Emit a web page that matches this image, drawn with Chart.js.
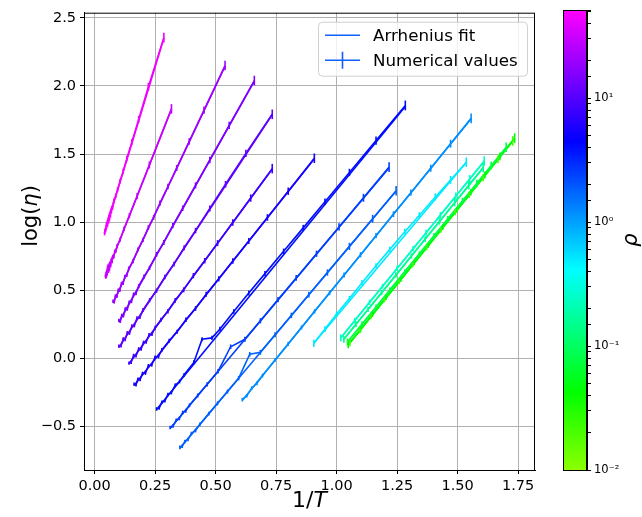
<!DOCTYPE html>
<html>
<head>
<meta charset="utf-8">
<title>Arrhenius plot</title>
<script src="https://cdn.jsdelivr.net/npm/chart.js@4.4.0/dist/chart.umd.min.js"></script>
<style>
    body { margin: 0; background: #fff; }
    #wrap { position: relative; width: 642px; height: 517px; }
    #wrap canvas { position: absolute; top: 0; }
</style>
</head>
<body>
<div id="wrap">
    <canvas id="mainChart" width="545" height="517" style="left:0"></canvas>
    <canvas id="colorbarChart" width="97" height="517" style="left:545px"></canvas>
</div>
<script>
// rho value of each run (colour comes from the colorbar)
const rhoValues = [45, 30, 20, 15, 11, 8, 5.6, 4, 2.5, 1.8, 1.17, 0.5, 0.25, 0.15, 0.08, 0.045, 0.022];

// numerical values: 1/T, log(eta), error
const invT_45 = [0.286, 0.222, 0.182, 0.154, 0.133, 0.118, 0.105, 0.095, 0.087, 0.080, 0.077, 0.074, 0.071, 0.069, 0.067, 0.065, 0.063, 0.061, 0.059, 0.057, 0.055, 0.053, 0.051, 0.049, 0.047, 0.045, 0.043, 0.041];
const logEta_45 = [2.355, 1.995, 1.755, 1.589, 1.467, 1.374, 1.301, 1.241, 1.193, 1.160, 1.134, 1.105, 1.108, 1.080, 1.085, 1.052, 1.060, 1.030, 1.040, 1.008, 1.015, 0.984, 0.992, 0.960, 0.966, 0.938, 0.944, 0.915];
const err_45 = [0.035, 0.028, 0.025, 0.022, 0.020, 0.019, 0.018, 0.017, 0.016, 0.015, 0.015, 0.014, 0.014, 0.014, 0.013, 0.013, 0.013, 0.013, 0.012, 0.012, 0.012, 0.012, 0.012, 0.012, 0.012, 0.012, 0.012, 0.012];

const invT_30 = [0.3175, 0.2262, 0.1757, 0.1437, 0.1215, 0.1053, 0.0929, 0.088, 0.0831, 0.079, 0.0751, 0.072, 0.0686, 0.066, 0.0631, 0.061, 0.0584, 0.056, 0.0544, 0.052, 0.0509, 0.049, 0.0478, 0.046, 0.045];
const logEta_30 = [1.832, 1.420, 1.192, 1.048, 0.951, 0.872, 0.825, 0.790, 0.784, 0.745, 0.748, 0.712, 0.720, 0.684, 0.696, 0.660, 0.676, 0.638, 0.657, 0.620, 0.640, 0.606, 0.625, 0.596, 0.610];
const err_30 = [0.035, 0.026, 0.022, 0.019, 0.017, 0.016, 0.015, 0.014, 0.014, 0.013, 0.013, 0.013, 0.013, 0.012, 0.012, 0.012, 0.012, 0.012, 0.012, 0.012, 0.012, 0.012, 0.012, 0.012, 0.012];

const invT_20 = [0.539, 0.452, 0.391, 0.339, 0.303, 0.270, 0.244, 0.222, 0.200, 0.179, 0.159, 0.141, 0.133, 0.125, 0.118, 0.111, 0.104, 0.098, 0.092, 0.086, 0.081, 0.076];
const logEta_20 = [2.150, 1.823, 1.593, 1.397, 1.262, 1.140, 1.036, 0.960, 0.870, 0.799, 0.714, 0.660, 0.612, 0.600, 0.552, 0.550, 0.500, 0.502, 0.455, 0.458, 0.414, 0.420];
const err_20 = [0.035, 0.027, 0.024, 0.022, 0.020, 0.019, 0.018, 0.017, 0.016, 0.015, 0.015, 0.014, 0.014, 0.013, 0.013, 0.013, 0.013, 0.012, 0.012, 0.012, 0.012, 0.012];

const invT_15 = [0.660, 0.556, 0.476, 0.417, 0.364, 0.323, 0.286, 0.256, 0.227, 0.204, 0.182, 0.171, 0.161, 0.152, 0.143, 0.135, 0.127, 0.119, 0.112, 0.106, 0.100];
const logEta_15 = [2.040, 1.711, 1.457, 1.270, 1.102, 0.975, 0.851, 0.764, 0.664, 0.600, 0.530, 0.478, 0.470, 0.418, 0.412, 0.362, 0.364, 0.312, 0.316, 0.272, 0.278];
const err_15 = [0.035, 0.027, 0.024, 0.022, 0.020, 0.019, 0.018, 0.017, 0.016, 0.015, 0.015, 0.014, 0.014, 0.013, 0.013, 0.013, 0.012, 0.012, 0.012, 0.012, 0.012];

const invT_11 = [0.734, 0.625, 0.541, 0.476, 0.417, 0.370, 0.328, 0.290, 0.256, 0.227, 0.200, 0.187, 0.175, 0.164, 0.154, 0.144, 0.135, 0.126, 0.118, 0.109, 0.100];
const logEta_11 = [1.792, 1.505, 1.278, 1.100, 0.938, 0.812, 0.692, 0.597, 0.497, 0.427, 0.355, 0.303, 0.295, 0.240, 0.238, 0.185, 0.188, 0.137, 0.142, 0.092, 0.090];
const err_11 = [0.035, 0.027, 0.024, 0.022, 0.020, 0.019, 0.018, 0.017, 0.016, 0.015, 0.015, 0.014, 0.014, 0.013, 0.013, 0.013, 0.012, 0.012, 0.012, 0.012, 0.012];

const invT_8 = [0.734, 0.645, 0.571, 0.508, 0.455, 0.408, 0.368, 0.333, 0.303, 0.274, 0.250, 0.237, 0.225, 0.213, 0.202, 0.192, 0.182, 0.171, 0.161, 0.151, 0.142];
const logEta_8 = [1.393, 1.177, 0.998, 0.846, 0.717, 0.607, 0.503, 0.426, 0.346, 0.283, 0.225, 0.178, 0.172, 0.120, 0.117, 0.068, 0.070, 0.018, 0.022, -0.030, -0.036];
const err_8 = [0.035, 0.027, 0.024, 0.022, 0.020, 0.019, 0.018, 0.017, 0.016, 0.015, 0.015, 0.014, 0.014, 0.013, 0.013, 0.013, 0.012, 0.012, 0.012, 0.012, 0.012];

const invT_5p6 = [0.908, 0.800, 0.714, 0.637, 0.571, 0.513, 0.461, 0.417, 0.377, 0.341, 0.308, 0.278, 0.264, 0.250, 0.236, 0.222, 0.210, 0.198, 0.188, 0.179, 0.171, 0.163];
const logEta_5p6 = [1.469, 1.227, 1.034, 0.862, 0.714, 0.584, 0.471, 0.366, 0.283, 0.195, 0.129, 0.062, 0.014, 0.008, -0.048, -0.055, -0.108, -0.110, -0.156, -0.152, -0.194, -0.190];
const err_5p6 = [0.035, 0.027, 0.024, 0.022, 0.020, 0.019, 0.018, 0.017, 0.016, 0.015, 0.015, 0.014, 0.014, 0.013, 0.013, 0.013, 0.013, 0.012, 0.012, 0.012, 0.012, 0.012];

const invT_4 = [1.284, 1.163, 1.053, 0.952, 0.862, 0.781, 0.704, 0.637, 0.575, 0.518, 0.485, 0.444, 0.410, 0.370, 0.351, 0.333, 0.317, 0.303, 0.290, 0.278, 0.267, 0.256];
const logEta_4 = [1.857, 1.599, 1.365, 1.150, 0.958, 0.786, 0.622, 0.479, 0.344, 0.215, 0.150, 0.140, -0.030, -0.121, -0.170, -0.198, -0.252, -0.265, -0.312, -0.322, -0.364, -0.372];
const err_4 = [0.036, 0.030, 0.027, 0.024, 0.022, 0.020, 0.019, 0.018, 0.017, 0.016, 0.016, 0.015, 0.015, 0.014, 0.014, 0.014, 0.013, 0.013, 0.013, 0.013, 0.013, 0.013];

const invT_2p5 = [1.217, 1.111, 1.010, 0.917, 0.833, 0.758, 0.685, 0.621, 0.562, 0.510, 0.465, 0.426, 0.392, 0.377, 0.364, 0.350, 0.337, 0.324, 0.312];
const logEta_2p5 = [1.404, 1.179, 0.965, 0.768, 0.590, 0.431, 0.276, 0.140, 0.085, -0.095, -0.191, -0.273, -0.345, -0.385, -0.398, -0.442, -0.455, -0.497, -0.508];
const err_2p5 = [0.035, 0.029, 0.026, 0.023, 0.021, 0.020, 0.019, 0.018, 0.017, 0.016, 0.015, 0.015, 0.014, 0.014, 0.014, 0.013, 0.013, 0.013, 0.013];

const invT_1p8 = [1.246, 1.149, 1.053, 0.962, 0.885, 0.813, 0.746, 0.685, 0.641, 0.595, 0.549, 0.508, 0.472, 0.435, 0.417, 0.400, 0.386, 0.373, 0.362, 0.352];
const logEta_1p8 = [1.230, 1.025, 0.822, 0.630, 0.467, 0.315, 0.173, 0.044, 0.030, -0.146, -0.244, -0.330, -0.406, -0.485, -0.530, -0.552, -0.596, -0.610, -0.646, -0.654];
const err_1p8 = [0.035, 0.029, 0.026, 0.023, 0.021, 0.020, 0.019, 0.018, 0.017, 0.016, 0.015, 0.015, 0.014, 0.014, 0.014, 0.013, 0.013, 0.013, 0.013, 0.013];

const invT_1p17 = [1.556, 1.471, 1.389, 1.307, 1.235, 1.163, 1.099, 1.031, 0.971, 0.909, 0.855, 0.800, 0.746, 0.694, 0.671, 0.649, 0.629, 0.610];
const logEta_1p17 = [1.762, 1.576, 1.396, 1.216, 1.059, 0.901, 0.761, 0.612, 0.481, 0.345, 0.227, 0.106, -0.012, -0.126, -0.183, -0.219, -0.275, -0.304];
const err_1p17 = [0.035, 0.029, 0.026, 0.023, 0.021, 0.020, 0.019, 0.018, 0.017, 0.016, 0.015, 0.015, 0.014, 0.014, 0.014, 0.013, 0.013, 0.013];

const invT_0p5 = [1.536, 1.471, 1.408, 1.342, 1.282, 1.220, 1.163, 1.105, 1.053, 1.000, 0.952, 0.906];
const logEta_0p5 = [1.440, 1.310, 1.185, 1.050, 0.930, 0.800, 0.680, 0.555, 0.440, 0.325, 0.215, 0.110];
const err_0p5 = [0.035, 0.029, 0.026, 0.023, 0.021, 0.020, 0.019, 0.018, 0.018, 0.019, 0.021, 0.026];

const invT_0p25 = [1.610, 1.550, 1.493, 1.429, 1.370, 1.316, 1.250, 1.190, 1.136, 1.075, 1.017];
const logEta_0p25 = [1.449, 1.317, 1.192, 1.052, 0.923, 0.805, 0.660, 0.529, 0.411, 0.277, 0.150];
const err_0p25 = [0.035, 0.029, 0.026, 0.023, 0.021, 0.020, 0.019, 0.018, 0.019, 0.021, 0.026];

const invT_0p15 = [1.606, 1.546, 1.488, 1.425, 1.366, 1.309, 1.245, 1.186, 1.130, 1.080, 1.030];
const logEta_0p15 = [1.401, 1.270, 1.143, 1.005, 0.876, 0.751, 0.611, 0.482, 0.359, 0.250, 0.140];
const err_0p15 = [0.035, 0.029, 0.026, 0.023, 0.021, 0.020, 0.019, 0.018, 0.019, 0.021, 0.026];

const invT_0p08 = [1.701, 1.639, 1.580, 1.520, 1.460, 1.403, 1.342, 1.282, 1.220, 1.163, 1.105, 1.045];
const logEta_0p08 = [1.550, 1.415, 1.286, 1.156, 1.025, 0.900, 0.767, 0.637, 0.502, 0.377, 0.251, 0.120];
const err_0p08 = [0.035, 0.029, 0.026, 0.023, 0.021, 0.020, 0.019, 0.018, 0.018, 0.019, 0.021, 0.026];

const invT_0p045 = [1.736, 1.675, 1.613, 1.555, 1.497, 1.439, 1.379, 1.321, 1.266, 1.205, 1.149, 1.099, 1.048];
const logEta_0p045 = [1.617, 1.483, 1.346, 1.218, 1.090, 0.962, 0.830, 0.702, 0.581, 0.446, 0.323, 0.212, 0.100];
const err_0p045 = [0.035, 0.029, 0.026, 0.023, 0.021, 0.020, 0.019, 0.018, 0.018, 0.018, 0.019, 0.021, 0.026];

const invT_0p022 = [1.728, 1.667, 1.606, 1.548, 1.490, 1.431, 1.372, 1.314, 1.258, 1.198, 1.142, 1.096, 1.055];
const logEta_0p022 = [1.596, 1.461, 1.327, 1.200, 1.072, 0.942, 0.812, 0.685, 0.562, 0.430, 0.306, 0.205, 0.115];
const err_0p022 = [0.035, 0.029, 0.026, 0.023, 0.021, 0.020, 0.019, 0.018, 0.018, 0.018, 0.019, 0.021, 0.026];

// Arrhenius fit segments, same order as rhoValues
const fitStartX = [0.041, 0.045, 0.076, 0.100, 0.100, 0.142, 0.163, 0.256, 0.312, 0.352, 0.610, 0.906, 1.017, 1.030, 1.045, 1.048, 1.055];
const fitStartY = [0.920, 0.603, 0.407, 0.265, 0.080, -0.040, -0.200, -0.375, -0.515, -0.660, -0.310, 0.110, 0.150, 0.140, 0.120, 0.100, 0.115];
const fitEndX = [0.286, 0.3175, 0.539, 0.660, 0.734, 0.734, 0.908, 1.284, 1.217, 1.246, 1.556, 1.536, 1.610, 1.606, 1.701, 1.736, 1.728];
const fitEndY = [2.350, 1.830, 2.145, 2.035, 1.790, 1.390, 1.465, 1.850, 1.400, 1.228, 1.760, 1.438, 1.447, 1.400, 1.548, 1.615, 1.594];

// axis ranges and colorbar range
const xRange = [-0.044, 1.82];
const yRange = [-0.82, 2.538];
const rhoRange = [0.01, 51.3];
const legendLabels = ['Arrhenius fit', 'Numerical values'];

const runs = [
    { x: invT_45, y: logEta_45, err: err_45 },
    { x: invT_30, y: logEta_30, err: err_30 },
    { x: invT_20, y: logEta_20, err: err_20 },
    { x: invT_15, y: logEta_15, err: err_15 },
    { x: invT_11, y: logEta_11, err: err_11 },
    { x: invT_8, y: logEta_8, err: err_8 },
    { x: invT_5p6, y: logEta_5p6, err: err_5p6 },
    { x: invT_4, y: logEta_4, err: err_4 },
    { x: invT_2p5, y: logEta_2p5, err: err_2p5 },
    { x: invT_1p8, y: logEta_1p8, err: err_1p8 },
    { x: invT_1p17, y: logEta_1p17, err: err_1p17 },
    { x: invT_0p5, y: logEta_0p5, err: err_0p5 },
    { x: invT_0p25, y: logEta_0p25, err: err_0p25 },
    { x: invT_0p15, y: logEta_0p15, err: err_0p15 },
    { x: invT_0p08, y: logEta_0p08, err: err_0p08 },
    { x: invT_0p045, y: logEta_0p045, err: err_0p045 },
    { x: invT_0p022, y: logEta_0p022, err: err_0p022 },
];

// colormap stops (fraction along the colorbar -> rgb)
const cmapStops = [
    [0.0, [140, 255, 0]],
    [0.17, [0, 255, 0]],
    [0.435, [0, 255, 255]],
    [0.714, [0, 0, 255]],
    [1.0, [255, 0, 255]],
];
const FONT = 'DejaVu Sans';
const LINE_WIDTH = 1.6;
const LEGEND_COLOR = '#1060ff';

Chart.defaults.font.family = FONT;
Chart.defaults.color = '#000';
Chart.defaults.animation = false;

function rhoFraction(rho) {
    const lo = Math.log10(rhoRange[0]);
    const hi = Math.log10(rhoRange[1]);
    return (Math.log10(rho) - lo) / (hi - lo);
}

function colormap(frac) {
    const f = Math.min(1, Math.max(0, frac));
    for (let i = 1; i < cmapStops.length; i++) {
        const [f1, c1] = cmapStops[i];
        const [f0, c0] = cmapStops[i - 1];
        if (f <= f1) {
            const t = (f - f0) / (f1 - f0);
            const c = c0.map((v, k) => Math.round(v + (c1[k] - v) * t));
            return `rgb(${c[0]}, ${c[1]}, ${c[2]})`;
        }
    }
    return 'rgb(255, 0, 255)';
}

function toPoints(xs, ys) {
    return xs.map((x, i) => ({ x, y: ys[i] }));
}

function buildDatasets() {
    const datasets = [];
    runs.forEach((run, i) => {
        const color = colormap(rhoFraction(rhoValues[i]));
        datasets.push({
            label: 'fit',
            data: [
                { x: fitStartX[i], y: fitStartY[i] },
                { x: fitEndX[i], y: fitEndY[i] },
            ],
            showLine: true,
            borderColor: color,
            borderWidth: LINE_WIDTH,
            pointRadius: 0,
        });
        datasets.push({
            label: 'numerical',
            data: toPoints(run.x, run.y),
            errors: run.err,
            showLine: true,
            borderColor: color,
            borderWidth: LINE_WIDTH,
            pointRadius: 0,
        });
    });
    return datasets;
}

// vertical error bars, drawn with the chart's own scales
const errorBarPlugin = {
    id: 'errorBars',
    afterDatasetsDraw(chart) {
        const { ctx, scales } = chart;
        chart.data.datasets.forEach((ds) => {
            if (!ds.errors) {
                return;
            }
            ctx.save();
            ctx.strokeStyle = ds.borderColor;
            ctx.lineWidth = LINE_WIDTH;
            ds.data.forEach((p, k) => {
                const e = ds.errors[k] || 0;
                const px = scales.x.getPixelForValue(p.x);
                ctx.beginPath();
                ctx.moveTo(px, scales.y.getPixelForValue(p.y - e));
                ctx.lineTo(px, scales.y.getPixelForValue(p.y + e));
                ctx.stroke();
            });
            ctx.restore();
        });
    }
};

function drawMixedText(ctx, parts, x, y) {
    // parts: [text, italic, size]; drawn centred on x
    let total = 0;
    parts.forEach(([text, italic, size]) => {
        ctx.font = `${italic ? 'italic ' : ''}${size}px "${FONT}"`;
        total += ctx.measureText(text).width;
    });
    let cursor = x - total / 2;
    parts.forEach(([text, italic, size]) => {
        ctx.font = `${italic ? 'italic ' : ''}${size}px "${FONT}"`;
        ctx.fillText(text, cursor, y);
        cursor += ctx.measureText(text).width;
    });
}

// frame, axis titles and legend box
const decorPlugin = {
    id: 'decor',
    afterDraw(chart) {
        const { ctx, chartArea } = chart;
        ctx.save();
        ctx.strokeStyle = '#000';
        ctx.lineWidth = 1;
        ctx.strokeRect(chartArea.left + 0.5, chartArea.top + 0.5, chartArea.width - 1, chartArea.height);

        ctx.fillStyle = '#000';
        ctx.textAlign = 'left';
        ctx.textBaseline = 'alphabetic';
        drawMixedText(ctx, [['1/', false, 22], ['T', true, 22]], (chartArea.left + chartArea.right) / 2, 507);

        ctx.save();
        ctx.translate(37, 216);
        ctx.rotate(-Math.PI / 2);
        drawMixedText(ctx, [['log(', false, 21], ['η', true, 21], [')', false, 21]], 0, 0);
        ctx.restore();

        // legend
        const boxRight = chartArea.right - 8;
        const boxLeft = boxRight - 209;
        const boxTop = chartArea.top + 9.5;
        ctx.beginPath();
        ctx.roundRect(boxLeft + 0.5, boxTop, 209, 54, 4);
        ctx.fillStyle = 'rgba(255,255,255,0.8)';
        ctx.fill();
        ctx.strokeStyle = '#d0d0d0';
        ctx.stroke();

        const rows = [boxTop + 13, boxTop + 38];
        ctx.strokeStyle = LEGEND_COLOR;
        ctx.lineWidth = LINE_WIDTH;
        rows.forEach((ry, i) => {
            ctx.beginPath();
            ctx.moveTo(boxLeft + 7, ry);
            ctx.lineTo(boxLeft + 42, ry);
            if (i === 1) {
                ctx.moveTo(boxLeft + 24.5, ry - 8.5);
                ctx.lineTo(boxLeft + 24.5, ry + 8.5);
            }
            ctx.stroke();
        });
        ctx.fillStyle = '#000';
        ctx.font = `16.7px "${FONT}"`;
        ctx.textBaseline = 'middle';
        rows.forEach((ry, i) => ctx.fillText(legendLabels[i], boxLeft + 55, ry + 1));
        ctx.restore();
    }
};

function minusSign(text) {
    return text.replace('-', '\u2212');
}

function renderMainChart() {
    new Chart(document.getElementById('mainChart'), {
        type: 'scatter',
        data: { datasets: buildDatasets() },
        options: {
            responsive: false,
            layout: { padding: { left: 0, right: 10, top: 10, bottom: 0 } },
            plugins: { legend: { display: false }, tooltip: { enabled: false } },
            scales: {
                x: {
                    type: 'linear',
                    min: xRange[0],
                    max: xRange[1],
                    afterFit: (scale) => { scale.height = 47; },
                    grid: { color: '#b0b0b0', lineWidth: 1, tickColor: '#000', tickLength: 4 },
                    border: { color: '#000', width: 1 },
                    ticks: {
                        stepSize: 0.25,
                        includeBounds: false,
                        padding: 4,
                        font: { size: 14.5 },
                        maxRotation: 0,
                        callback: (v) => minusSign(Number(v).toFixed(2)),
                    },
                },
                y: {
                    type: 'linear',
                    min: yRange[0],
                    max: yRange[1],
                    afterFit: (scale) => { scale.width = 84; },
                    grid: { color: '#b0b0b0', lineWidth: 1, tickColor: '#000', tickLength: 4 },
                    border: { color: '#000', width: 1 },
                    ticks: {
                        stepSize: 0.5,
                        includeBounds: false,
                        padding: 4,
                        font: { size: 14.5 },
                        callback: (v) => minusSign(Number(v).toFixed(1)),
                    },
                },
            },
        },
        plugins: [errorBarPlugin, decorPlugin],
    });
}

const SUPERSCRIPTS = { '-': '\u207B', '0': '\u2070', '1': '\u00B9', '2': '\u00B2', '3': '\u00B3' };

function decadeLabel(value) {
    const e = Math.log10(value);
    if (Math.abs(e - Math.round(e)) > 1e-6) {
        return '';
    }
    return '10' + String(Math.round(e)).split('').map((c) => SUPERSCRIPTS[c]).join('');
}

const colorbarFramePlugin = {
    id: 'colorbarFrame',
    afterDraw(chart) {
        const { ctx, chartArea } = chart;
        ctx.save();
        ctx.strokeStyle = '#000';
        ctx.lineWidth = 1;
        ctx.strokeRect(chartArea.left + 0.5, chartArea.top + 0.5, chartArea.width - 1, chartArea.height);
        ctx.translate(87, (chartArea.top + chartArea.bottom) / 2);
        ctx.rotate(-Math.PI / 2);
        ctx.fillStyle = '#000';
        ctx.textAlign = 'center';
        ctx.textBaseline = 'middle';
        ctx.font = `italic 21px "${FONT}"`;
        ctx.fillText('ρ', 0, 0);
        ctx.restore();
    }
};

function colorbarGradient(context) {
    const { chart } = context;
    const area = chart.chartArea;
    if (!area) {
        return null;
    }
    const gradient = chart.ctx.createLinearGradient(0, area.bottom, 0, area.top);
    cmapStops.forEach(([f]) => gradient.addColorStop(f, colormap(f)));
    return gradient;
}

function renderColorbar() {
    new Chart(document.getElementById('colorbarChart'), {
        type: 'bar',
        data: {
            labels: ['rho'],
            datasets: [{
                data: [rhoRange],
                backgroundColor: colorbarGradient,
                borderWidth: 0,
                barPercentage: 1,
                categoryPercentage: 1,
            }],
        },
        options: {
            responsive: false,
            layout: { padding: { left: 18, right: 0, top: 10, bottom: 47 } },
            plugins: { legend: { display: false }, tooltip: { enabled: false } },
            scales: {
                x: { display: false },
                y: {
                    type: 'logarithmic',
                    position: 'right',
                    min: rhoRange[0],
                    max: rhoRange[1],
                    afterFit: (scale) => { scale.width = 55; },
                    grid: { drawOnChartArea: false, tickColor: '#000', tickLength: 4 },
                    border: { color: '#000', width: 1 },
                    ticks: {
                        autoSkip: false,
                        padding: 3,
                        font: { size: 11.5 },
                        callback: (v) => decadeLabel(v),
                    },
                },
            },
        },
        plugins: [colorbarFramePlugin],
    });
}

document.addEventListener('DOMContentLoaded', () => {
    renderMainChart();
    renderColorbar();
});
</script>
</body>
</html>
